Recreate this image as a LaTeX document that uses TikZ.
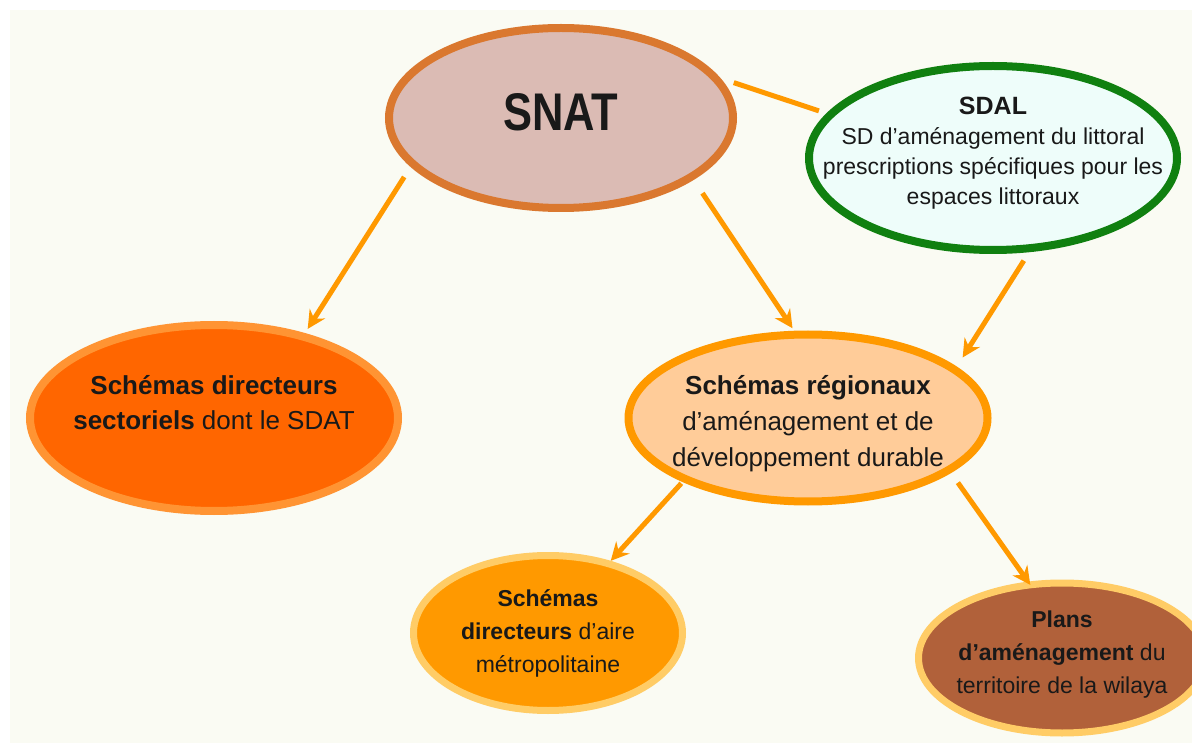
\documentclass[tikz,border=0pt]{standalone}
\usepackage{fontspec}
\setmainfont{Liberation Sans}
\usetikzlibrary{arrows.meta,positioning,shapes.geometric}

\definecolor{fond}{RGB}{250,251,243}
\definecolor{snatfill}{RGB}{219,187,180}
\definecolor{snatline}{RGB}{218,120,47}
\definecolor{sdalfill}{RGB}{238,253,250}
\definecolor{sdalline}{RGB}{16,128,16}
\definecolor{sectfill}{RGB}{255,102,0}
\definecolor{sectline}{RGB}{255,148,51}
\definecolor{regfill}{RGB}{255,204,153}
\definecolor{orangeline}{RGB}{255,153,0}
\definecolor{paleline}{RGB}{255,204,102}
\definecolor{wilayafill}{RGB}{177,97,58}

\begin{document}
\begin{tikzpicture}[on grid, every label/.style={align=center, text=black!90}]

\tikzstyle{bulle} = [ellipse, draw, inner sep=0pt]
\tikzstyle{snatbox} = [bulle, fill=snatfill, draw=snatline, line width=8pt, minimum width=344pt, minimum height=180pt]
\tikzstyle{sdalbox} = [bulle, fill=sdalfill, draw=sdalline, line width=8pt, minimum width=368pt, minimum height=184pt]
\tikzstyle{sectbox} = [bulle, fill=sectfill, draw=sectline, line width=8pt, minimum width=368pt, minimum height=186pt]
\tikzstyle{regbox} = [bulle, fill=regfill, draw=orangeline, line width=8pt, minimum width=359pt, minimum height=167pt]
\tikzstyle{metrobox} = [bulle, fill=orangeline, draw=paleline, line width=7pt, minimum width=269pt, minimum height=155pt]
\tikzstyle{wilayabox} = [bulle, fill=wilayafill, draw=paleline, line width=7pt, minimum width=287pt, minimum height=150pt]
\tikzstyle{lien} = [line width=5pt, draw=orangeline]
\tikzstyle{fleche} = [lien, -{Stealth[length=18pt, width=18pt, inset=6pt]}]

% Fond
\useasboundingbox (0,0) rectangle (1192pt,-743pt);
\fill[white] (0,0) rectangle (1192pt,-743pt);
\fill[fond] (10pt,-10pt) rectangle (1192pt,-743pt);
\clip (0,0) rectangle (1192pt,-743pt);

% Niveau national
\node[snatbox, label={[yshift=6pt, font=\fontsize{53}{60}\selectfont\bfseries]center:\scalebox{0.82}[1]{SNAT}}] (snat) at (561pt,-118pt) {};
\node[sdalbox, below right=40pt and 432pt of snat, label={[yshift=5pt, font=\fontsize{23}{30}\selectfont]center:{{\fontsize{25}{30}\selectfont\bfseries SDAL}\\SD d'aménagement du littoral\\prescriptions spécifiques pour les\\espaces littoraux}}] (sdal) {};

% Niveau sectoriel et regional
\node[sectbox, below left=300pt and 347pt of snat, label={[yshift=15pt, font=\fontsize{26}{35}\selectfont]center:{\textbf{Schémas directeurs}\\\textbf{sectoriels} dont le SDAT}}] (sect) {};
\node[regbox, below right=300pt and 247pt of snat, label={[yshift=-6pt, font=\fontsize{26}{36}\selectfont]center:{\textbf{Schémas régionaux}\\d'aménagement et de\\développement durable}}] (reg) {};

% Niveau local
\node[metrobox, below left=215pt and 260pt of reg, label={[font=\fontsize{23}{33}\selectfont]center:{\textbf{Schémas}\\\textbf{directeurs} d'aire\\métropolitaine}}] (metro) {};
\node[wilayabox, below right=240pt and 254pt of reg, label={[yshift=3pt, font=\fontsize{23}{33}\selectfont]center:{\textbf{Plans}\\\textbf{d'aménagement} du\\territoire de la wilaya}}] (wilaya) {};

% Liens
\draw[lien, shorten <=14pt, shorten >=8pt] (snat.14) -- (sdal.165);
\draw[fleche, shorten <=12pt, shorten >=5pt] (snat.198) -- (sect.43);
\draw[fleche, shorten <=16pt, shorten >=3pt] (snat.335) -- (reg.99);
\draw[fleche, shorten <=10pt, shorten >=11pt] (sdal.291) -- (reg.19);
\draw[fleche, shorten <=2pt] (reg.207) -- (metro.49);
\draw[fleche, shorten <=12pt, shorten >=-4pt] (reg.339) -- (wilaya.114);

\end{tikzpicture}
\end{document}
